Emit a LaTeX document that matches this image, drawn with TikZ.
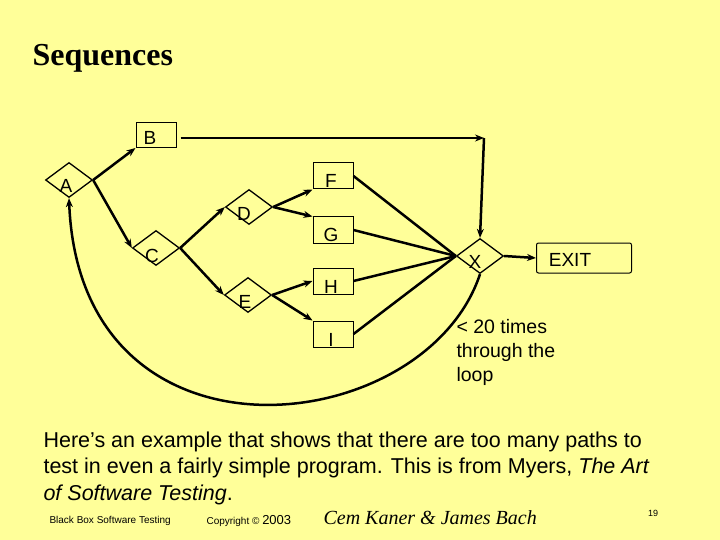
\documentclass[tikz,border=0pt]{standalone}
\usepackage{fontspec}
\setmainfont{Liberation Sans}
\newfontfamily\titlefont{Liberation Serif}
\usetikzlibrary{shapes.geometric,arrows.meta}
\definecolor{bg}{HTML}{FFFF99}
\begin{document}
\begin{tikzpicture}[x=1pt,y=-1pt,
  dia/.style={draw,line width=1.3pt,diamond,minimum width=47pt,minimum height=35pt,aspect=1.4,inner sep=0pt},
  box/.style={draw,line width=1pt,minimum width=40pt,minimum height=26pt,inner sep=0pt},
  lab/.style={font=\fontsize{19}{19}\selectfont},
  arr/.style={line width=2.5pt,-{Stealth[length=9pt,width=7pt]}},
  ln/.style={line width=2.5pt}]
\fill[bg] (0,0) rectangle (720,540);
\useasboundingbox (0,0) rectangle (720,540);
\node[anchor=west,font=\titlefont\bfseries\fontsize{32}{32}\selectfont] (title) at (29,58) {Sequences};
\node[dia] (A) at (69,180) {};
\node[lab] (At) at (66,186) {A};
\node[box,minimum width=40pt,minimum height=25pt] (B) at (156,135) {};
\node[lab] (Bt) at (150,138) {B};
\node[dia] (C) at (156,248) {};
\node[lab] (Ct) at (152,256) {C};
\node[dia] (D) at (249,207) {};
\node[lab] (Dt) at (244,214) {D};
\node[dia] (E) at (248,295) {};
\node[lab] (Et) at (245,302) {E};
\node[box] (F) at (333,176) {};
\node[lab] (Ft) at (331,181) {F};
\node[box] (G) at (333,230) {};
\node[lab] (Gt) at (331,235) {G};
\node[box] (H) at (333,281) {};
\node[lab] (Ht) at (331,287) {H};
\node[box] (I) at (333,334) {};
\node[lab] (It) at (331,340) {I};
\node[dia] (X) at (480,256) {};
\node[lab] (Xt) at (475,262) {X};
\node[draw,line width=1pt,rounded corners=2pt,minimum width=95pt,minimum height=30pt] (EXIT) at (584,258) {};
\node[lab] (EXt) at (570,260) {EXIT};
\coordinate (Bc) at (484,138);
\draw[arr] (A.east) -- (B.south west);
\draw[arr] (A.east) -- (C.west);
\draw[arr] (C.east) -- (D.west);
\draw[arr] (C.east) -- (E.west);
\draw[arr] (D.east) -- (F.south west);
\draw[arr] (D.east) -- (G.north west);
\draw[arr] (E.east) -- (H.west);
\draw[arr] (E.east) -- (I.north west);
\draw[ln] (F.east) -- (X.west);
\draw[ln] (G.east) -- (X.west);
\draw[ln] (H.east) -- (X.west);
\draw[ln] (I.east) -- (X.west);
\draw[arr] (B.east) ++(4,3) -- (Bc);
\draw[arr] (Bc) -- (X.north);
\draw[arr] (X.east) -- (EXIT.west);
\draw[arr] (X.south) .. controls (425,440) and (80,480) .. (A.south);
\node[anchor=north west,align=left,font=\fontsize{19.5}{24}\selectfont] (loop) at (453,316) {< 20 times\\through the\\loop};
\node[anchor=north west,align=left,font=\fontsize{21.5}{26.5}\selectfont] (txt) at (40,428) {Here’s an example that shows that there are too many paths to\\test in even a fairly simple program. This is from Myers, \textit{The Art}\\\textit{of Software Testing}.};
\node[anchor=west,font=\fontsize{10}{10}\selectfont] (f1) at (46,521) {Black Box Software Testing};
\node[anchor=west,font=\fontsize{10}{10}\selectfont] (f2) at (203,521) {Copyright © \fontsize{13}{13}\selectfont 2003};
\node[anchor=west,font=\titlefont\itshape\fontsize{20}{20}\selectfont] (f3) at (320,518) {Cem Kaner \& James Bach};
\node[font=\fontsize{9}{9}\selectfont] (f4) at (653,513) {19};
\end{tikzpicture}
\end{document}
